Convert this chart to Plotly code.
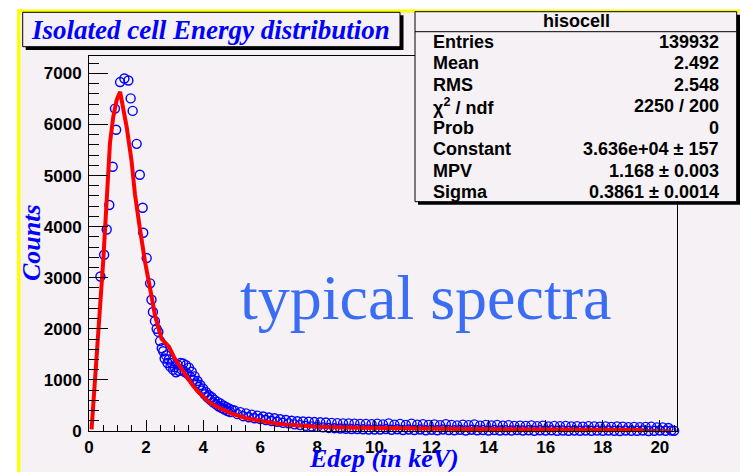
import numpy as np
import plotly.graph_objects as go

# ---------------- data ----------------
# histogram points, rising edge + peak
x_peak = [0.40, 0.53, 0.62, 0.71, 0.83, 0.91, 0.95, 1.09, 1.24, 1.38, 1.46, 1.53,
          1.67, 1.78, 1.88, 1.90, 2.02, 2.14, 2.19, 2.24, 2.31, 2.37, 2.43, 2.49, 2.55]
y_peak = [3024, 3450, 3945, 4424, 5173, 6310, 5897, 6830, 6900, 6860, 6510, 6265,
          5620, 5016, 4370, 3880, 3385, 2890, 2570, 2330, 2150, 2000, 1940, 1760, 1620]

# shoulder region 2.60 .. 5.00 (step 0.05)
x_mid = list(np.round(np.arange(2.60, 5.001, 0.05), 2))
y_mid = [1560, 1420, 1480, 1330, 1400, 1260, 1330, 1200, 1250, 1150,
         1300, 1180, 1330, 1200, 1320, 1160, 1290, 1120, 1240, 1060,
         1160, 1000, 1070, 930, 980, 860, 900, 790, 830, 720,
         760, 660, 700, 610, 660, 560, 610, 520, 570, 480,
         540, 450, 500, 420, 470, 390, 440, 370, 410]

# tail 5.1 .. 20.5 (step 0.1)
x_tail = list(np.round(np.arange(5.1, 20.501, 0.1), 2))
y_tail = [400, 330, 370, 290, 345, 270, 320, 250, 300, 235,
          285, 215, 265, 195, 250, 180, 230, 160, 215, 150,
          200, 130, 190, 115, 185, 100, 180, 90, 175, 80,
          170, 70, 165, 60, 160, 55, 155, 50, 150, 45,
          150, 40, 145, 40, 140, 35, 140, 30, 135, 30,
          145, 30, 130, 40, 150, 25, 125, 35, 140, 20,
          120, 30, 145, 20, 125, 30, 135, 15, 120, 25,
          130, 15, 115, 30, 135, 20, 120, 15, 110, 25,
          125, 10, 115, 25, 130, 15, 105, 20, 120, 10,
          110, 20, 120, 10, 105, 15, 115, 10, 100, 20,
          105, 10, 100, 15, 110, 5, 95, 15, 105, 10,
          90, 15, 100, 5, 95, 10, 100, 5, 90, 10,
          95, 5, 85, 10, 95, 5, 90, 10, 85, 5,
          90, 10, 80, 5, 90, 0, 85, 10, 75, 5,
          80, 5, 75, 10, 80, 0, 85, 5, 70, 10,
          70, 5, 60, 10, 5]

# Landau fit curve
fit_x = [0.09, 0.27, 0.385, 0.5, 0.62, 0.735, 0.85, 0.97, 1.09, 1.32, 1.49, 1.61,
         1.78, 1.96, 2.14, 2.31, 2.54, 2.8, 3.0, 3.2, 3.4, 3.6, 3.8, 4.0, 4.2, 4.5,
         4.8, 5.0, 5.5, 6.0, 6.5, 7.0, 7.5, 8.0, 9.0, 10, 11, 12, 13, 14, 15, 16,
         17, 18, 19.4]
fit_y = [30, 1378, 2363, 3340, 4520, 5640, 6150, 6480, 6640, 5950, 5292, 4635,
         3976, 3318, 2793, 2266, 1805, 1650, 1420, 1250, 1100, 920, 780, 680, 570, 470,
         400, 340, 250, 190, 150, 120, 100, 85, 70, 60, 50, 45, 40, 35, 32, 30,
         27, 25, 22]
fit2_x = [19.4, 20.4]
fit2_y = [22, 20]

stat_labels = ["Entries", "Mean", "RMS", "χ<sup>2</sup> / ndf", "Prob",
               "Constant", "MPV", "Sigma"]
stat_values = ["139932", "2.492", "2.548", "2250 / 200", "0",
               "3.636e+04 ± 157", "1.168 ± 0.003", "0.3861 ± 0.0014"]
hist_name = "hisocell"
title_text = "Isolated cell Energy distribution"
x_title = "Edep (in keV)"
y_title = "Counts"
overlay_text = "typical spectra"

# ---------------- layout helpers ----------------
W, H = 740, 472
L, R, T, B = 89, 677, 56, 431
BG = "#f5f1f5"


def fx(px):
    return (px - L) / (R - L)


def fy(py):
    return (B - py) / (B - T)


fig = go.Figure()
fig.add_trace(go.Scatter(
    x=x_peak + x_mid + x_tail, y=y_peak + y_mid + y_tail, mode="markers",
    marker=dict(symbol="circle-open", size=9, color="#0000ff", line=dict(width=1.4)),
    showlegend=False, cliponaxis=False))
fig.add_trace(go.Scatter(x=fit_x, y=fit_y, mode="lines",
                         line=dict(color="#ff0000", width=4), showlegend=False))
fig.add_trace(go.Scatter(x=fit2_x, y=fit2_y, mode="lines",
                         line=dict(color="#cc0000", width=1.5), showlegend=False))

shapes = []


def rect(x0, y0, x1, y1, fill, line=None, lw=0):
    d = dict(type="rect", xref="paper", yref="paper",
             x0=fx(x0), x1=fx(x1), y0=fy(y1), y1=fy(y0),
             fillcolor=fill, layer="above", line=dict(width=lw, color=line or fill))
    shapes.append(d)


# canvas borders
rect(0, 0, 17, 472, "white")
rect(0, 0, 740, 9.5, "white")
rect(17, 9.5, 20.5, 472, "#ffff00")
rect(17, 9.5, 740, 12.5, "#ffff00")
# title box with shadow
rect(25.7, 15.3, 403.5, 50, "black")
rect(22.7, 12.3, 400, 46.7, BG, "black", 1)
# stats box with shadow
rect(418, 14.7, 740, 204.7, "black")
rect(415, 11.7, 736.7, 201.7, BG, "black", 1)
shapes.append(dict(type="line", xref="paper", yref="paper", x0=fx(415), x1=fx(736.7),
                   y0=fy(31.7), y1=fy(31.7), line=dict(color="black", width=1), layer="above"))

ann = []
ann.append(dict(text="<b><i>" + title_text + "</i></b>", x=fx(210), y=fy(30),
                font=dict(family="Liberation Serif", size=27, color="#0000ff")))
ann.append(dict(text=hist_name, x=fx(576), y=fy(21),
                font=dict(family="Liberation Sans", size=18, color="black", weight=600)))
for i, (lab, val) in enumerate(zip(stat_labels, stat_values)):
    yy = fy(41.7 + i * 21.5)
    ann.append(dict(text="<b>" + lab + "</b>", x=fx(431), y=yy, xanchor="left",
                    font=dict(family="Liberation Sans", size=18, color="black")))
    ann.append(dict(text="<b>" + val + "</b>", x=fx(721), y=yy, xanchor="right",
                    font=dict(family="Liberation Sans", size=18, color="black")))
ann.append(dict(text="<b><i>" + y_title + "</i></b>", x=fx(31.5), y=fy(242.5), textangle=-90,
                font=dict(family="Liberation Serif", size=26, color="#0000ff")))
ann.append(dict(text="<b><i>" + x_title + "</i></b>", x=fx(461), y=fy(458), xanchor="right",
                font=dict(family="Liberation Serif", size=26, color="#0000ff")))
ann.append(dict(text=overlay_text, x=fx(425), y=fy(297),
                font=dict(family="Liberation Serif", size=64, color="#3a6cf4")))
for a in ann:
    a.update(xref="paper", yref="paper", showarrow=False)
    a.setdefault("xanchor", "center")
    a.setdefault("yanchor", "middle")

tickfont = dict(family="Liberation Sans", size=17, color="black", weight="bold")
fig.update_layout(
    width=W, height=H, margin=dict(l=L, r=W - R, t=T, b=H - B),
    paper_bgcolor=BG, plot_bgcolor=BG, shapes=shapes, annotations=ann,
    xaxis=dict(range=[0, 20.6], showgrid=False, zeroline=False, showline=True,
               linecolor="black", linewidth=1, mirror=True, ticks="inside",
               ticklen=11, tickcolor="black", dtick=2, tick0=0,
               tickfont=tickfont, ticklabelstandoff=1,
               minor=dict(dtick=0.5, ticks="inside", ticklen=6, tickcolor="black", showgrid=False)),
    yaxis=dict(range=[0, 7340], showgrid=False, zeroline=False, showline=True,
               linecolor="black", linewidth=1, mirror=True, ticks="inside",
               ticklen=19, tickcolor="black", dtick=1000, tick0=0,
               tickfont=tickfont, ticklabelstandoff=3,
               minor=dict(dtick=200, ticks="inside", ticklen=10, tickcolor="black", showgrid=False)),
)

fig.write_html("out.html", config={"displayModeBar": False},
               post_script="document.body.style.margin='0';")
